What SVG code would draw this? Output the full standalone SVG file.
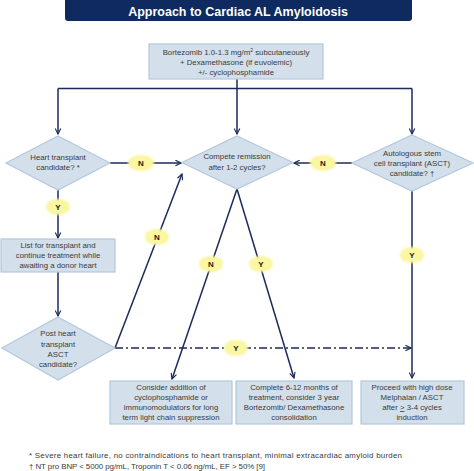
<svg xmlns="http://www.w3.org/2000/svg" width="474" height="471" viewBox="0 0 474 471">
<defs>
<style>
.box{fill:#d3e0ec;stroke:#b3c8dc;stroke-width:1.2}
.t{font-family:"Liberation Sans",Arial,sans-serif;font-size:7.8px;fill:#3a3a3a;text-anchor:middle}
.fn{font-family:"Liberation Sans",Arial,sans-serif;font-size:7.9px;fill:#3a3a3a}
.ln{fill:none;stroke:#1c2a5a;stroke-width:1.5}
.lbl{fill:#fbf6a0}
.lt{font-family:"Liberation Sans",Arial,sans-serif;font-size:8px;font-weight:bold;fill:#1a1a1a;text-anchor:middle}
</style>
<marker id="ah" viewBox="0 0 10 10" refX="9" refY="5" markerWidth="7" markerHeight="7" orient="auto" markerUnits="userSpaceOnUse">
<path d="M1,1 L9,5 L1,9" fill="none" stroke="#1c2a5a" stroke-width="1.6"/>
</marker>
<filter id="soft" x="-30%" y="-30%" width="160%" height="160%"><feGaussianBlur stdDeviation="0.8"/></filter>
</defs>
<rect width="474" height="471" fill="#ffffff"/>

<g id="title">
<path d="M65,0 H412 V18 Q412,21 409,21 H68 Q65,21 65,18 Z" fill="#0e2a5e"/>
<text x="238" y="15.5" font-family="Liberation Sans,Arial,sans-serif" font-size="12.5" font-weight="bold" fill="#ffffff" text-anchor="middle">Approach to Cardiac AL Amyloidosis</text>
</g>

<g id="connectors">
<path class="ln" d="M237,79 V88.5 M58,88.5 H412"/>
<path class="ln" d="M58,88.5 V134" marker-end="url(#ah)"/>
<path class="ln" d="M237,88.5 V134" marker-end="url(#ah)"/>
<path class="ln" d="M412,88.5 V134" marker-end="url(#ah)"/>
<path class="ln" d="M110,163 H181" marker-end="url(#ah)"/>
<path class="ln" d="M352,163 H294" marker-end="url(#ah)"/>
<path class="ln" d="M58,190 V238" marker-end="url(#ah)"/>
<path class="ln" d="M58,272 V316" marker-end="url(#ah)"/>
<path class="ln" d="M115,348 L182,174" marker-end="url(#ah)"/>
<path class="ln" d="M237,189 L172,379" marker-end="url(#ah)"/>
<path class="ln" d="M237,189 L294,378" marker-end="url(#ah)"/>
<path class="ln" d="M412,191 V378" marker-end="url(#ah)"/>
<path class="ln" d="M115,348 H411" stroke-dasharray="8,3,2,3" marker-end="url(#ah)"/>
<g id="labels">
<ellipse class="lbl" cx="141" cy="163" rx="13" ry="8" filter="url(#soft)"/><text class="lt" x="141" y="166">N</text>
<ellipse class="lbl" cx="323" cy="163" rx="13" ry="8" filter="url(#soft)"/><text class="lt" x="323" y="166">N</text>
<ellipse class="lbl" cx="58" cy="207" rx="12" ry="8" filter="url(#soft)"/><text class="lt" x="58" y="210">Y</text>
<ellipse class="lbl" cx="157" cy="237" rx="12" ry="8" filter="url(#soft)"/><text class="lt" x="157" y="240">N</text>
<ellipse class="lbl" cx="211" cy="264" rx="12" ry="8" filter="url(#soft)"/><text class="lt" x="211" y="267">N</text>
<ellipse class="lbl" cx="261" cy="264" rx="12" ry="8" filter="url(#soft)"/><text class="lt" x="261" y="267">Y</text>
<ellipse class="lbl" cx="412" cy="255" rx="12" ry="8" filter="url(#soft)"/><text class="lt" x="412" y="258">Y</text>
<ellipse class="lbl" cx="236" cy="348" rx="12" ry="8" filter="url(#soft)"/><text class="lt" x="236" y="351">Y</text>
</g>
</g>

<g id="start">
<rect class="box" x="149" y="44" width="174" height="35"/>
<text class="t" x="236" y="55">Bortezomib 1.0-1.3 mg/m<tspan font-size="5" dy="-3">2</tspan><tspan dy="3"> subcutaneously</tspan></text>
<text class="t" x="236" y="65">+ Dexamethasone (if euvolemic)</text>
<text class="t" x="236" y="75">+/- cyclophosphamide</text>
</g>

<g id="heart">
<path class="box" d="M58,136 L110,163 L58,190 L6,163 Z"/>
<text class="t" x="58" y="160">Heart transplant</text>
<text class="t" x="58" y="170">candidate? *</text>
</g>

<g id="remission">
<path class="box" d="M237,136 L293,162.5 L237,189 L182,162.5 Z"/>
<text class="t" x="237" y="159">Compete remission</text>
<text class="t" x="237" y="170">after 1-2 cycles?</text>
</g>

<g id="asct">
<path class="box" d="M412,135 L473,163 L412,191 L352,163 Z"/>
<text class="t" x="412" y="156">Autologous stem</text>
<text class="t" x="412" y="166">cell transplant  (ASCT)</text>
<text class="t" x="412" y="176">candidate? †</text>
</g>

<g id="list">
<rect class="box" x="1" y="239" width="114" height="33"/>
<text class="t" x="58" y="248">List for transplant  and</text>
<text class="t" x="58" y="258">continue  treatment  while</text>
<text class="t" x="58" y="268">awaiting a donor heart</text>
</g>

<g id="post">
<path class="box" d="M58,317 L115,348 L58,380 L2,348 Z"/>
<text class="t" x="58" y="336">Post heart</text>
<text class="t" x="58" y="347">transplant</text>
<text class="t" x="58" y="357">ASCT</text>
<text class="t" x="58" y="367">candidate?</text>
</g>

<g id="consider">
<rect class="box" x="110" y="381" width="122" height="43"/>
<text class="t" x="171" y="390">Consider addition of</text>
<text class="t" x="171" y="400">cyclophosphamide or</text>
<text class="t" x="171" y="410">immunomodulators  for long</text>
<text class="t" x="171" y="420">term light chain suppression</text>
</g>

<g id="complete">
<rect class="box" x="236" y="381" width="116" height="43"/>
<text class="t" x="294" y="390">Complete 6-12 months  of</text>
<text class="t" x="294" y="400">treatment,  consider 3 year</text>
<text class="t" x="294" y="410">Bortezomib/ Dexamethasone</text>
<text class="t" x="294" y="420">consolidation</text>
</g>

<g id="proceed">
<rect class="box" x="361" y="381" width="103" height="43"/>
<text class="t" x="412" y="390">Proceed with high dose</text>
<text class="t" x="412" y="400">Melphalan  / ASCT</text>
<text class="t" x="412" y="410">after <tspan text-decoration="underline">&gt;</tspan> 3-4 cycles</text>
<text class="t" x="412" y="420">induction</text>
</g>

<g id="footnotes">
<text class="fn" x="29" y="458" textLength="373" lengthAdjust="spacing">* Severe heart failure, no contraindications to heart transplant, minimal extracardiac amyloid burden</text>
<text class="fn" x="29" y="469" textLength="236" lengthAdjust="spacing">† NT pro BNP &lt; 5000 pg/mL, Troponin  T &lt; 0.06 ng/mL, EF &gt; 50% [9]</text>
</g>
</svg>
